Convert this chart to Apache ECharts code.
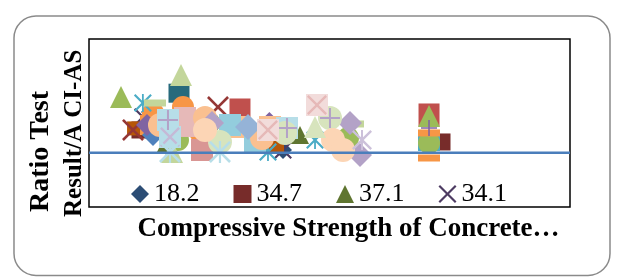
<!DOCTYPE html>
<html>
<head>
<meta charset="utf-8">
<script src="https://cdn.jsdelivr.net/npm/echarts@6/dist/echarts.min.js"></script>
<style>
html,body{margin:0;padding:0;background:#fff;}
#chart{width:622px;height:277px;}
</style>
</head>
<body>
<div id="chart"></div>
<script>
// ---- Data ----
const xAxisTitle = 'Compressive Strength of Concrete\u2026';
const yAxisTitleLines = ['Ratio Test', 'Result/A CI-AS'];
const legendNames = ['18.2', '34.7', '37.1', '34.1'];
const referenceRatio = [1, 1];
const referenceX = [0, 100];

const seriesNames = ['18.2','34.7','37.1','34.1','S5','S6','S7','S8','S9','S10',
  'S11','S12','S13','S14','S15','S16','S17','S18','S19','S20',
  'S21','S22','S23','S24','S25','S26','S27','S28','S29','S30',
  'S31','S32','S33','S34','S35','S36','S37'];
const seriesX = [
  [12.68, 40.33],
  [10.6, 73.39],
  [15.8, 43.87],
  [11.2, 40.33],
  [18.71],
  [38.25, 10.2],
  [26.82, 9.15],
  [31.39, 70.69],
  [6.65, 70.69],
  [13.3, 19.54, 23.08],
  [12.68],
  [13.3, 32.5, 16.84],
  [12.06, 37.5],
  [11.2, 37.21, 46.99],
  [70.69],
  [70.69, 53.85, 25.0, 18.5],
  [70.69, 70.69],
  [13.72, 54.89],
  [19.13, 17.26],
  [19.96],
  [23.49],
  [31.39, 37.63],
  [29.31, 34.51],
  [14.76, 35.97, 24.12],
  [33.06],
  [25.57, 56.34, 54.26],
  [16.42, 41.16, 16.84],
  [27.23, 40.75, 50.1],
  [16.42, 41.16, 50.1],
  [16.84],
  [37.21, 47.4],
  [37.21, 47.4],
  [50.73, 52.81, 24.12],
  [46.99],
  [56.76],
  [70.69],
  [16.84, 27.23]
];
const seriesY = [
  [1.753, 1.052],
  [1.421, 1.2],
  [1.144, 1.329],
  [1.66, 1.05],
  [2.1],
  [1.107, 1.45],
  [1.845, 1.421],
  [1.79, 1.698],
  [2.03, 1.679],
  [1.735, 1.845, 1.384],
  [1.513],
  [1.329, 1.45, 1.458],
  [1.513, 1.55],
  [1.919, 1.015, 1.236],
  [1.2],
  [1.181, 1.273, 1.55, 1.236],
  [1.366, 0.904],
  [1.919, 1.532],
  [2.436, 1.015],
  [1.569],
  [1.052],
  [1.476, 1.476],
  [1.513, 1.2],
  [1.513, 1.273, 1.642],
  [1.476],
  [1.55, 0.96, 1.55],
  [1.605, 1.458, 1.292],
  [1.2, 1.366, 1.642],
  [1.605, 1.458, 1.642],
  [1.292],
  [1.421, 1.882],
  [1.421, 1.882],
  [1.236, 1.052, 1.421],
  [1.476],
  [1.236],
  [1.458],
  [1.015, 1.015]
];

// ---- Styles (kept apart from the data) ----
const P_X = 'path://M1.7,0 L10,8.3 L18.3,0 L20,1.7 L11.7,10 L20,18.3 L18.3,20 L10,11.7 L1.7,20 L0,18.3 L8.3,10 L0,1.7 Z';
const P_PLUS = 'path://M9,0 H11 V9 H20 V11 H11 V20 H9 V11 H0 V9 H9 Z';
const P_STAR = P_X + ' M9,0 H11 V20 H9 Z';
const P_DASH = 'path://M0,0 H20 V6 H0 Z';
const seriesStyles = [
  {symbol:'diamond', color:'#2C4D75', size:18},
  {symbol:'rect', color:'#772C2A', size:17},
  {symbol:'triangle', color:'#5F7530', size:18},
  {symbol:P_X, color:'#4D3B62', size:18},
  {symbol:'rect', color:'#276A7C', size:[21,19]},
  {symbol:'rect', color:'#B65708', size:[22,14]},
  {symbol:P_X, color:'#953735', size:22},
  {symbol:'rect', color:'#C0504D', size:[21,23]},
  {symbol:'triangle', color:'#9BBB59', size:22},
  {symbol:'circle', color:'#F79646', size:22},
  {symbol:'rect', color:'#F79646', size:20},
  {symbol:'diamond', color:'#4F81BD', size:22},
  {symbol:'diamond', color:'#8064A2', size:22},
  {symbol:P_STAR, color:'#4BACC6', size:18},
  {symbol:'rect', color:'#4BACC6', size:[22,18]},
  {symbol:'circle', color:'#9BBB59', size:22},
  {symbol:P_DASH, color:'#F79646', size:[22,7]},
  {symbol:P_DASH, color:'#C3D69B', size:[22,7]},
  {symbol:'triangle', color:'#C3D69B', size:22},
  {symbol:'rect', color:'#E6B9B8', size:[22,30]},
  {symbol:'rect', color:'#D99694', size:22},
  {symbol:'rect', color:'#FAC090', size:22},
  {symbol:'rect', color:'#93CDDD', size:22},
  {symbol:'circle', color:'#FAC090', size:24},
  {symbol:'diamond', color:'#95B3D7', size:26},
  {symbol:'diamond', color:'#B3A2C7', size:24},
  {symbol:'rect', color:'#B7DEE8', size:22},
  {symbol:'circle', color:'#D7E4BD', size:24},
  {symbol:P_PLUS, color:'#B3A2C7', size:20},
  {symbol:P_X, color:'#C5BAD6', size:20},
  {symbol:'rect', color:'#F2DCDB', size:22},
  {symbol:P_X, color:'#E6B9B8', size:20},
  {symbol:'circle', color:'#FCD5B5', size:24},
  {symbol:'triangle', color:'#D7E4BD', size:22},
  {symbol:P_STAR, color:'#CCC1DA', size:20},
  {symbol:P_PLUS, color:'#8064A2', size:16},
  {symbol:P_STAR, color:'#B7DEE8', size:22}
];

const chart = echarts.init(document.getElementById('chart'), null, {renderer:'canvas'});
const series = seriesNames.map((name, i) => ({
  name: name,
  type: 'scatter',
  symbol: seriesStyles[i].symbol,
  symbolSize: seriesStyles[i].size,
  itemStyle: {color: seriesStyles[i].color, opacity: 1},
  emphasis: {disabled: true},
  data: seriesX[i].map((x, j) => [x, seriesY[i][j]]),
  z: 2
}));
series.push({
  name: 'ref',
  type: 'line',
  data: referenceX.map((x, j) => [x, referenceRatio[j]]),
  symbol: 'none',
  lineStyle: {color: '#4A7EBB', width: 2.5},
  z: 5,
  silent: true
});

const serif = '"Liberation Serif","Times New Roman",serif';
chart.setOption({
  animation: false,
  backgroundColor: '#fff',
  grid: {left: 89, top: 39, width: 481, height: 168, show: true, borderColor: '#000', borderWidth: 1.5, backgroundColor: 'transparent'},
  xAxis: {type: 'value', min: 0, max: 100, axisLine: {show: false}, axisTick: {show: false}, axisLabel: {show: false}, splitLine: {show: false}},
  yAxis: {type: 'value', min: 0, max: 3.1, axisLine: {show: false}, axisTick: {show: false}, axisLabel: {show: false}, splitLine: {show: false}},
  legend: {
    data: legendNames,
    left: 131, top: 181, padding: 0,
    itemWidth: 18, itemHeight: 18, itemGap: 34,
    selectedMode: false,
    textStyle: {fontFamily: serif, fontSize: 26, color: '#000', padding: [0,0,0,0]}
  },
  graphic: [
    {type: 'rect', shape: {x: 14, y: 16, width: 596, height: 259.5, r: 22}, style: {fill: 'none', stroke: '#8A8A8A', lineWidth: 1.5}, silent: true},
    {type: 'text', x: 41, y: 212, rotation: Math.PI/2, style: {text: yAxisTitleLines[0], font: 'bold 28px ' + serif, fill: '#000', textAlign: 'left', textVerticalAlign: 'middle'}},
    {type: 'text', x: 75, y: 217, rotation: Math.PI/2, style: {text: yAxisTitleLines[1], font: 'bold 25px ' + serif, fill: '#000', textAlign: 'left', textVerticalAlign: 'middle'}},
    {type: 'text', x: 348.5, y: 229, style: {text: xAxisTitle, font: 'bold 27px ' + serif, fill: '#000', textAlign: 'center', textVerticalAlign: 'middle'}}
  ],
  series: series
});
</script>
</body>
</html>
